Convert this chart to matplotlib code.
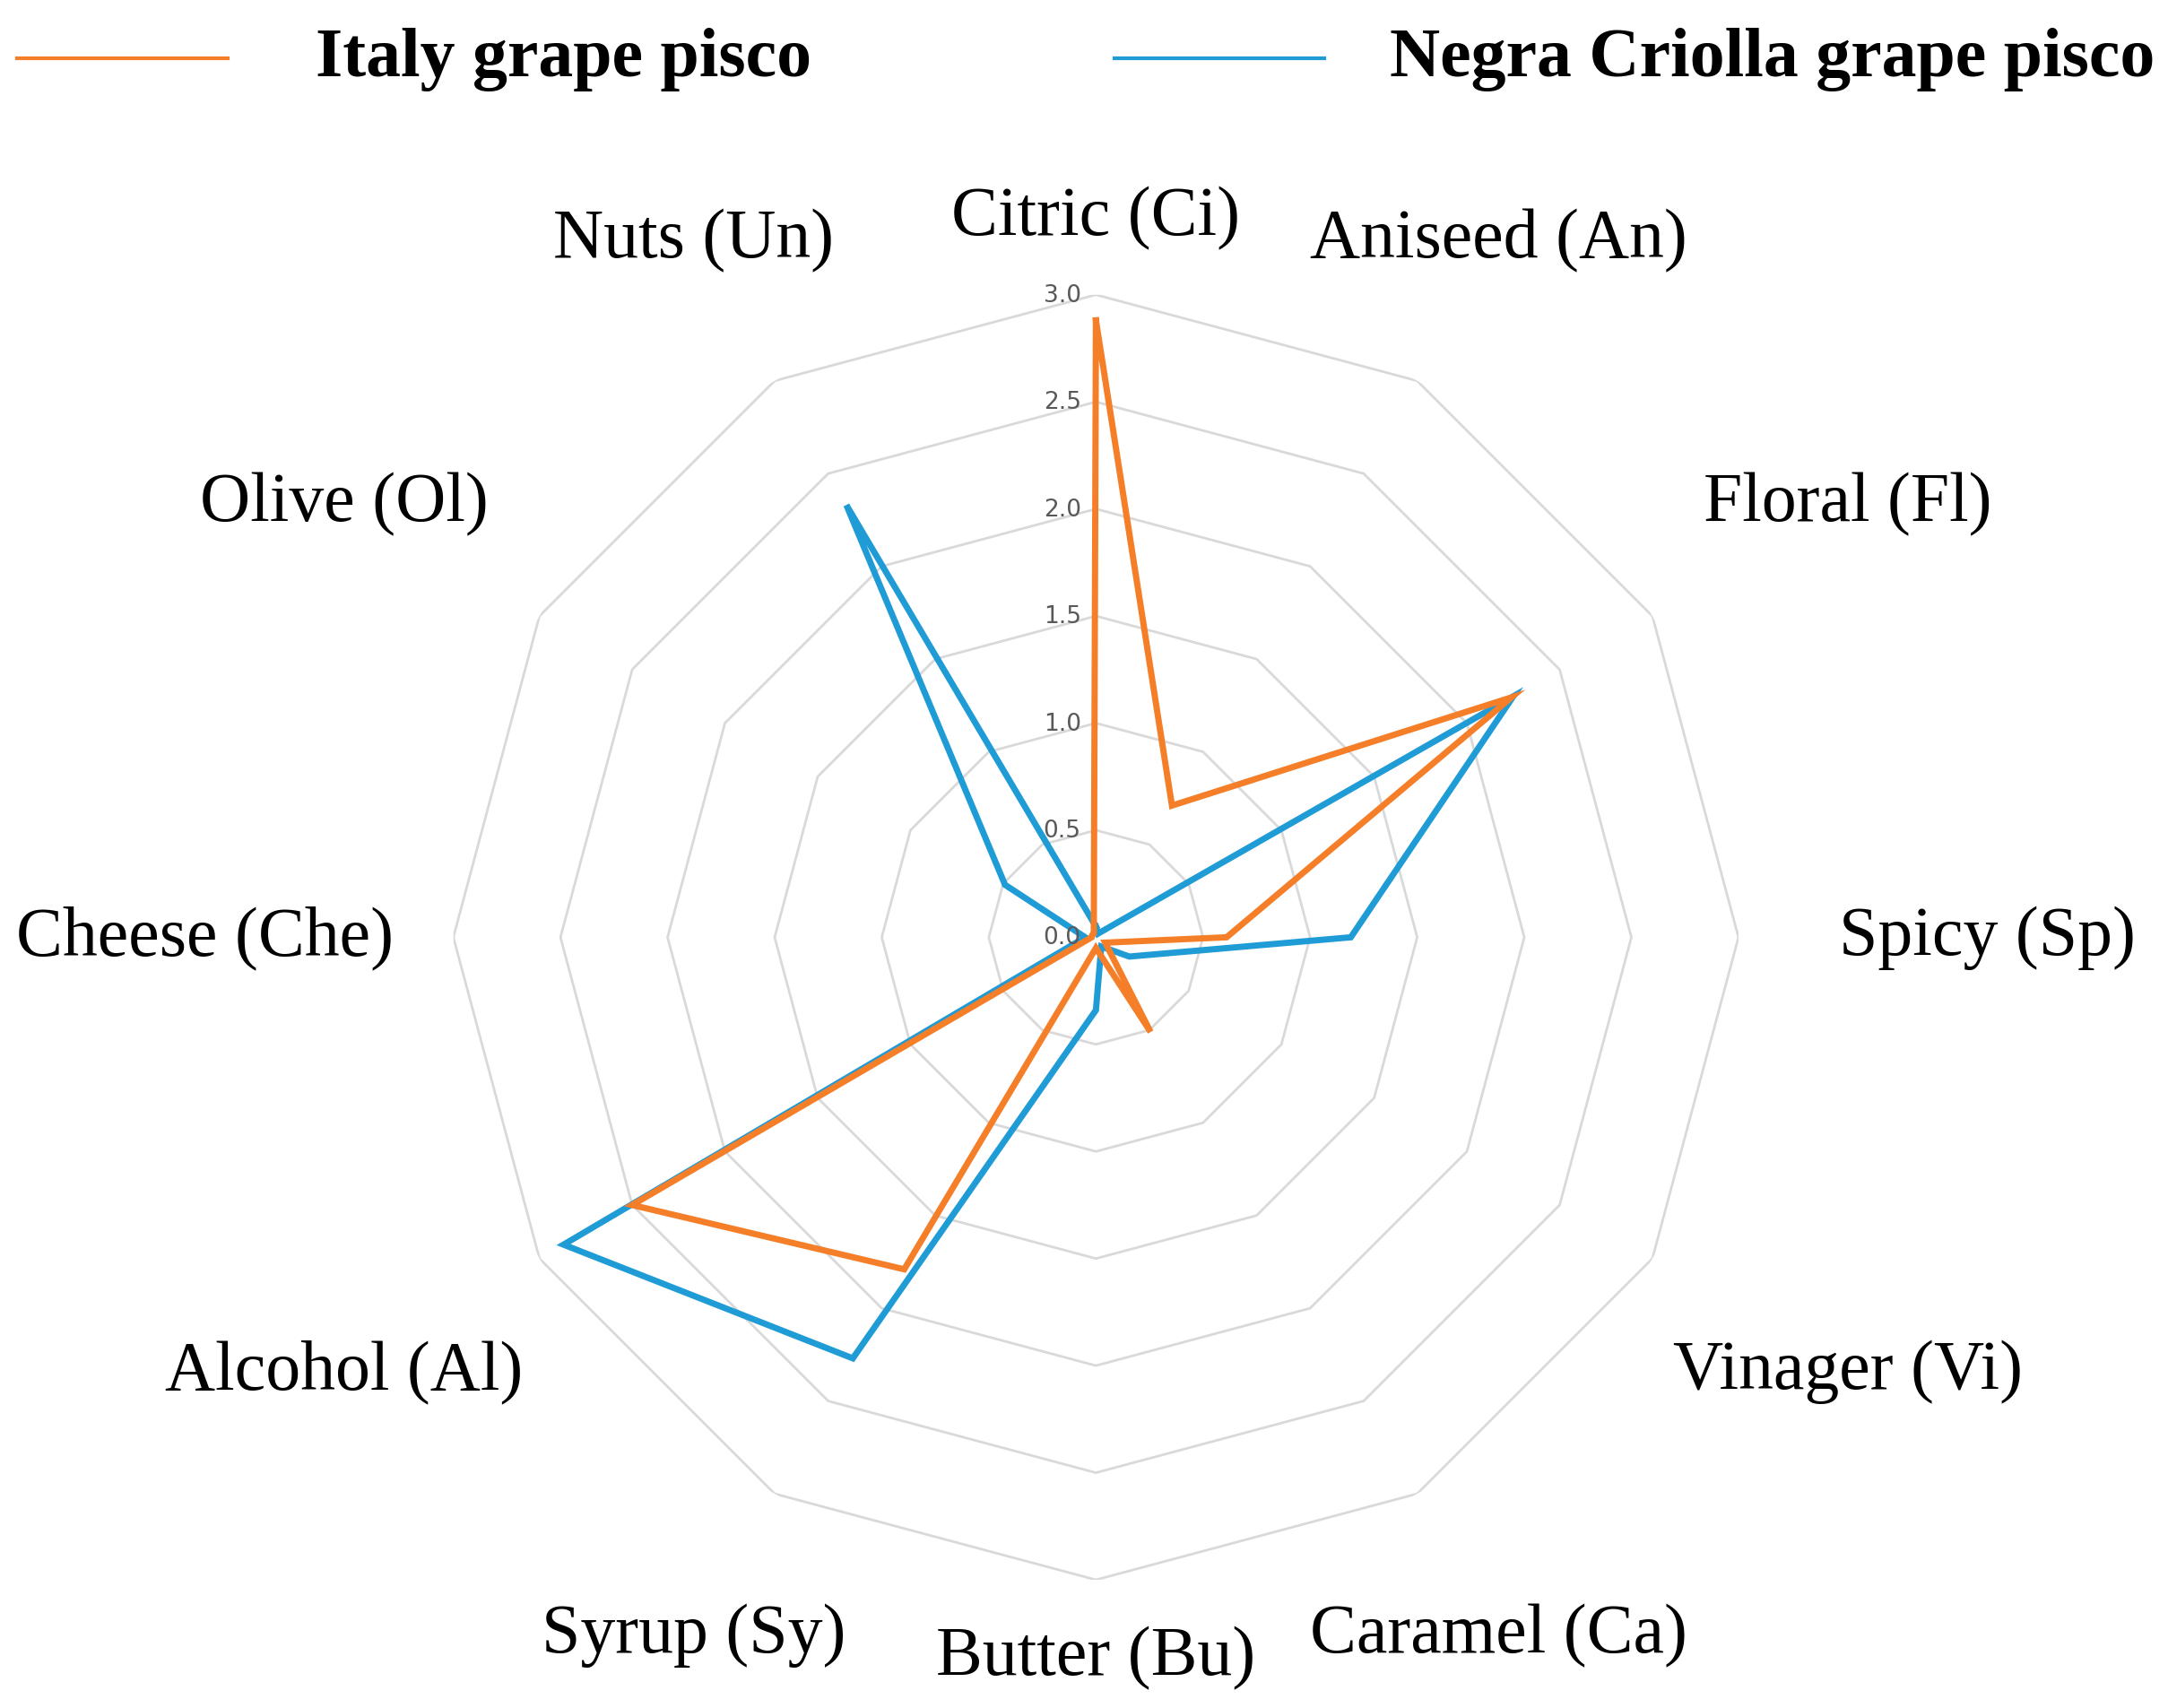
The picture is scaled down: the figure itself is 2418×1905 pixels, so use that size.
import numpy as np
import matplotlib
matplotlib.use("Agg")
import matplotlib.pyplot as plt
from matplotlib.lines import Line2D

categories = ["Citric (Ci)", "Aniseed (An)", "Floral (Fl)", "Spicy (Sp)", "Vinager (Vi)",
              "Caramel (Ca)", "Butter (Bu)", "Syrup (Sy)", "Alcohol (Al)", "Cheese (Che)",
              "Olive (Ol)", "Nuts (Un)"]
italy = [2.88, 0.71, 2.24, 0.61, 0.05, 0.51, 0.05, 1.79, 2.50, 0.02, 0.02, 0.02]
negra = [0.05, 0.02, 2.25, 1.19, 0.18, 0.05, 0.34, 2.27, 2.87, 0.05, 0.49, 2.33]
ticks = [0.0, 0.5, 1.0, 1.5, 2.0, 2.5, 3.0]
series_names = ["Italy grape pisco", "Negra Criolla grape pisco"]
colors = ["#F57F29", "#1F9BD6"]

n = len(categories)
ang = np.arange(n) * 2 * np.pi / n

fig = plt.figure(figsize=(24.18, 19.06), dpi=100)
ax = fig.add_axes([0.209, 0.075, 0.593, 0.752], projection="polar")
ax.set_theta_zero_location("N")
ax.set_theta_direction(-1)
ax.set_ylim(0, 3.0)
ax.axis("off")

closed = np.append(ang, ang[0])
for t in ticks[1:]:
    ax.plot(closed, [t] * (n + 1), color="#d9d9d9", lw=2, zorder=1)

for vals, c in zip([italy, negra][::-1], colors[::-1]):
    ax.plot(closed, vals + vals[:1], color=c, lw=5, zorder=3, solid_joinstyle="miter")

for t in ticks:
    ax.annotate(f"{t:.1f}", xy=(0, t), xytext=(-12, 0), textcoords="offset points",
                ha="right", va="center", fontsize=19, color="#595959",
                family="DejaVu Sans", zorder=4)

for a, lab in zip(ang, categories):
    r = 3.36 + 0.8 * abs(np.sin(a))
    ax.text(a, r, lab, ha="center", va="center", fontsize=56, family="Liberation Serif")

# legend
ys = 1 - 43 / 1236
for (x0, x1, xt), name, c in zip([(12, 165, 228), (806, 958, 1005)], series_names, colors):
    fig.add_artist(Line2D([x0 / 1568, x1 / 1568], [ys, ys], color=c, lw=3,
                          transform=fig.transFigure))
    fig.text(xt / 1568, ys, name, ha="left", va="center", fontsize=56,
             fontweight="bold", family="Liberation Serif")

fig.savefig("out.png", dpi=100, facecolor="white")
